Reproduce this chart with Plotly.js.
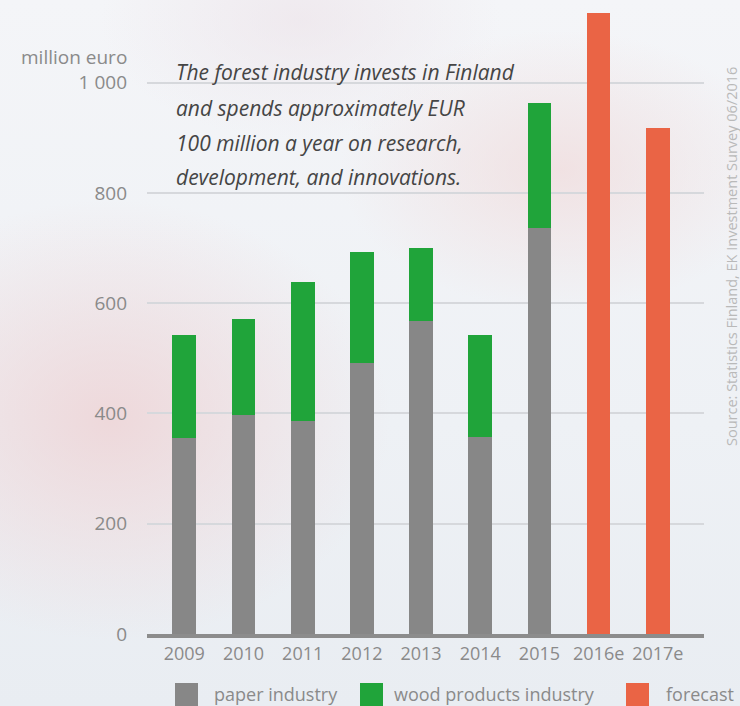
<!DOCTYPE html>
<html><head><meta charset="utf-8">
<script src="https://cdn.plot.ly/plotly-3.0.1.min.js"></script>
<style>
html,body{margin:0;padding:0;}
body{width:740px;height:706px;overflow:hidden;
background:
 radial-gradient(ellipse 280px 220px at 110px 420px, rgba(238,210,212,0.8), rgba(238,210,212,0) 100%),
 radial-gradient(ellipse 220px 140px at 560px 170px, rgba(240,218,218,0.7), rgba(240,218,218,0) 100%),
 radial-gradient(ellipse 200px 120px at 300px 20px, rgba(236,226,232,0.6), rgba(236,226,232,0) 100%),
 linear-gradient(180deg,#f4f5f8 0%,#eef1f5 60%,#e9edf2 100%);}
#chart{width:740px;height:706px;}
</style></head>
<body><div id="chart"></div>
<script>
var categories = ['2009','2010','2011','2012','2013','2014','2015','2016e','2017e'];
var paperIndustry = [356, 397, 387, 492, 568, 357, 737, null, null];
var woodProducts  = [187, 175, 252, 201, 133, 186, 227, null, null];
var forecast      = [null, null, null, null, null, null, null, 1127, 918];
var seriesNames = ['paper industry','wood products industry','forecast'];
var yTickVals = [0, 200, 400, 600, 800, 1000];
var yTickText = ['0','200','400','600','800','1 000'];
var yUnit = 'million euro';
var noteLines = ['The forest industry invests in Finland','and spends approximately EUR','100 million a year on research,','development, and innovations.'];
var sourceText = 'Source: Statistics Finland, EK Investment Survey 06/2016';

var colors = ['#878787','#20a43a','#ea6445'];
var gray = '#8a8a8a';
var font = '"Open Sans", "Source Sans Pro", Lato, sans-serif';

var traces = [
 {type:'bar', x:categories, y:paperIndustry, name:seriesNames[0], marker:{color:colors[0]}, showlegend:false},
 {type:'bar', x:categories, y:woodProducts, name:seriesNames[1], marker:{color:colors[1]}, showlegend:false},
 {type:'bar', x:categories, y:forecast, name:seriesNames[2], marker:{color:colors[2]}, showlegend:false}
];

var PL = 147, PW = 557, PH = 634;
function px(x){return (x-PL)/PW;}
function py(y){return (PH-y)/PH;}

var annotations = [
 {xref:'paper', yref:'paper', x:px(129), y:py(57), xanchor:'right', yanchor:'middle', text:yUnit, showarrow:false, font:{family:font,size:19,color:gray}}
];
var lineY = [72,108,143,177];
noteLines.forEach(function(t,i){
 annotations.push({xref:'paper', yref:'paper', x:px(174), y:py(lineY[i]), xanchor:'left', yanchor:'middle', text:'<i>'+t+'</i>', showarrow:false, font:{family:font,size:21,color:'#454545'}});
});
annotations.push({xref:'paper', yref:'paper', x:px(731), y:py(257), xanchor:'center', yanchor:'middle', textangle:-90, text:sourceText, showarrow:false, font:{family:font,size:14.5,color:'#b9b9b9'}});

// legend (manual, built from series names/colors)
var legX = [175, 360, 626];
var legTX = [213, 393, 665];
var shapes = [];
seriesNames.forEach(function(n,i){
 shapes.push({type:'rect', xref:'paper', yref:'paper', x0:px(legX[i]), x1:px(legX[i]+23), y0:py(706), y1:py(683), fillcolor:colors[i], line:{width:0}});
 annotations.push({xref:'paper', yref:'paper', x:px(legTX[i]), y:py(694), xanchor:'left', yanchor:'middle', text:n, showarrow:false, borderpad:0, font:{family:font,size:18,color:gray}});
});

var layout = {
 width:740, height:706,
 margin:{l:PL, r:740-PL-PW, t:0, b:706-PH},
 paper_bgcolor:'rgba(0,0,0,0)', plot_bgcolor:'rgba(0,0,0,0)',
 barmode:'stack', bargap:0.6,
 showlegend:false,
 xaxis:{type:'category', range:[-0.63, 8.78], showgrid:false, zeroline:false,
   showline:true, linecolor:'#8c8c8c', linewidth:4, ticks:'',
   tickfont:{family:font,size:18,color:gray}, fixedrange:true},
 yaxis:{range:[0,1150], tickvals:yTickVals, ticktext:yTickText, showgrid:true,
   gridcolor:'#d6d8dc', gridwidth:2, zeroline:false, showline:false, ticks:'',
   ticklabelstandoff:19,
   tickfont:{family:font,size:19,color:gray}, fixedrange:true},
 annotations:annotations,
 shapes:shapes,
 font:{family:font}
};
Plotly.newPlot('chart', traces, layout, {displayModeBar:false, staticPlot:true});
</script></body></html>
